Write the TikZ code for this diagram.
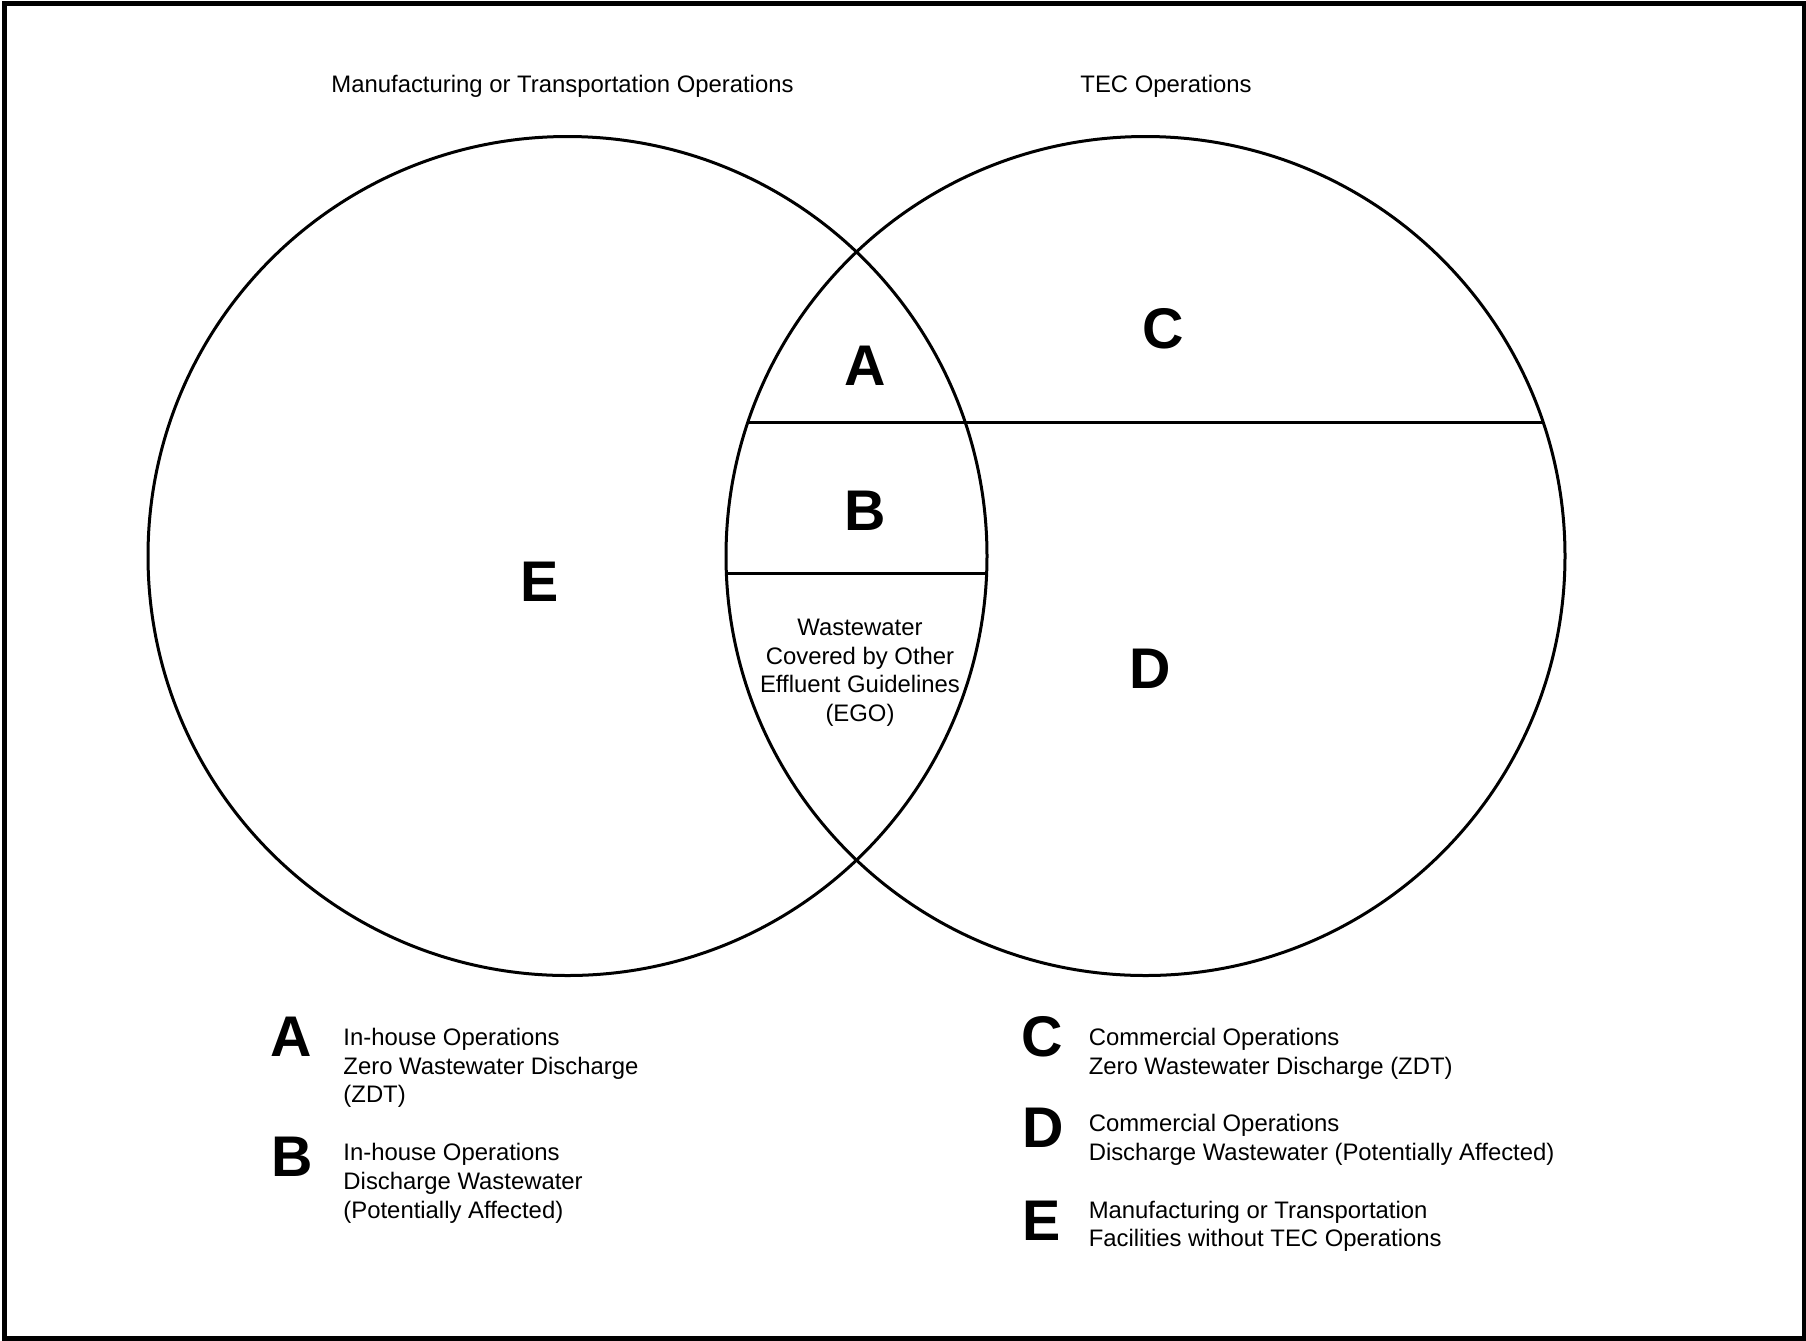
\documentclass[tikz,border=0pt]{standalone}
\usepackage{fontspec}
\setmainfont{Liberation Sans}

\begin{document}
\begin{tikzpicture}[x=0.75pt,y=0.75pt,yscale=-1,xscale=1,
  region/.style={font=\fontsize{43}{43}\selectfont\bfseries, inner sep=0pt},
  legend/.style={font=\fontsize{17.9}{21.6}\selectfont, align=left, inner sep=0pt, anchor=base west},
  caption/.style={font=\fontsize{17.9}{21.6}\selectfont, align=center, inner sep=0pt, anchor=base},
  outline/.style={line width=2.25pt}]
\useasboundingbox (0,0) rectangle (1806,1340);

%Shape: Frame
\draw [line width=3.75pt] (4.5,3.5) rectangle (1804,1338.5);

%Centres of the two sets
\coordinate (mto) at (567.5,556);
\coordinate (tec) at (1145.5,556);

%Shape: Circle [Manufacturing or Transportation]
\draw [outline] (mto) circle (419.5);
%Shape: Circle [TEC]
\draw [outline] (tec) circle (419.5);

%Straight Lines [A/C above, B/D below]
\coordinate (acL) at (747.9,422.3);
\coordinate (acR) at (1543.1,422.3);
\draw [outline] (acL) -- (acR);
%Straight Lines [B above EGO]
\coordinate (egoL) at (726.4,573.3);
\coordinate (egoR) at (986.6,573.3);
\draw [outline] (egoL) -- (egoR);

% Text Node
\draw (562.5,92.5) node [caption] (ttlMTO) {Manufacturing or Transportation Operations};
% Text Node
\draw (1166,92.5) node [caption] (ttlTEC) {TEC Operations};

% Region letters
\draw (865,366) node [region] (rA) {A};
\draw (865,511) node [region] (rB) {B};
\draw (1162.7,328.8) node [region] (rC) {C};
\draw (1150.6,668.6) node [region] (rD) {D};
\draw (539.6,582.2) node [region] (rE) {E};

% Text Node (base = last line)
\draw (860,721.6) node [caption] (ego) {Wastewater\\Covered by Other\\Effluent Guidelines\\(EGO)};

% Legend (base = last line)
\draw (291.5,1036.5) node [region] (kA) {A};
\draw (343.2,1102.8) node [legend] (tA) {In-house Operations\\Zero Wastewater Discharge\\(ZDT)};
\draw (292,1157) node [region] (kB) {B};
\draw (343.2,1218) node [legend] (tB) {In-house Operations\\Discharge Wastewater\\(Potentially Affected)};
\draw (1042,1036.5) node [region] (kC) {C};
\draw (1088.5,1074) node [legend] (tC) {Commercial Operations\\Zero Wastewater Discharge (ZDT)};
\draw (1043,1128) node [region] (kD) {D};
\draw (1088.5,1160.4) node [legend] (tD) {Commercial Operations\\Discharge Wastewater (Potentially Affected)};
\draw (1042,1221) node [region] (kE) {E};
\draw (1088.5,1246.8) node [legend] (tE) {Manufacturing or Transportation\\Facilities without TEC Operations};

\end{tikzpicture}
\end{document}
